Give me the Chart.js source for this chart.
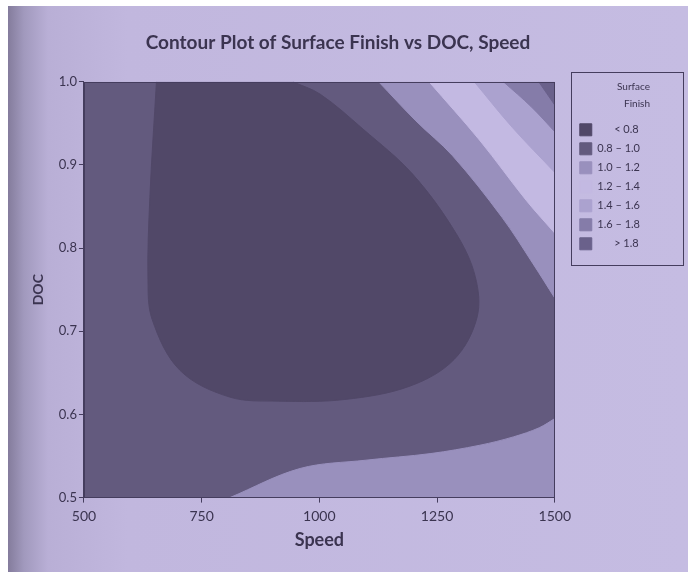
<!DOCTYPE html>
<html>
<head>
<meta charset="utf-8">
<title>Contour Plot of Surface Finish vs DOC, Speed</title>
<script src="https://cdn.jsdelivr.net/npm/chart.js@4.4.1/dist/chart.umd.min.js"></script>
<style>
  html, body { margin: 0; padding: 0; background: #fff; }
  #wrap {
    position: absolute; left: 8px; top: 6px; width: 680px; height: 566px;
    background: linear-gradient(90deg, #847c9c 0px, #a199bd 16px, #b9afd6 40px, #c1b7de 120px, #c5bce2 100%);
  }
  canvas { display: block; }
</style>
</head>
<body>
<div id="wrap"><canvas id="contour" width="680" height="566"></canvas></div>
<script>
// Contour levels of Surface Finish (legend order)
const levels = ['< 0.8', '0.8 – 1.0', '1.0 – 1.2', '1.2 – 1.4', '1.4 – 1.6', '1.6 – 1.8', '> 1.8'];
const levelColors = ['#514868', '#635a7e', '#9990bd', '#c3b9e2', '#aba2cf', '#857ca9', '#6a618b'];

const speedRange = [500, 1500];
const docRange = [0.5, 1.0];

// 0.8 contour, a loop that opens onto the top edge
const innerSpeed = [654, 640, 636, 645, 704, 809, 913, 1054, 1192, 1286, 1335, 1331, 1290, 1198, 1093, 1002, 944];
const innerDoc = [1.0, 0.861, 0.763, 0.714, 0.653, 0.621, 0.616, 0.618, 0.634, 0.666, 0.717, 0.766, 0.818, 0.889, 0.943, 0.985, 1.0];

// 1.0 contour, upper right and lower right
const upper10Speed = [1126, 1205, 1283, 1388, 1454, 1500];
const upper10Doc = [1.0, 0.953, 0.911, 0.837, 0.781, 0.740];
const lower10Speed = [810, 959, 1099, 1237, 1341, 1412, 1467, 1500];
const lower10Doc = [0.5, 0.535, 0.545, 0.553, 0.563, 0.573, 0.584, 0.595];

// 1.2 .. 1.8 contours in the top right corner
const c12Speed = [1233, 1340, 1440, 1500];
const c12Doc = [1.0, 0.930, 0.857, 0.818];
const c14Speed = [1329, 1410, 1500];
const c14Doc = [1.0, 0.945, 0.891];
const c16Speed = [1391, 1450, 1500];
const c16Doc = [1.0, 0.970, 0.940];
const c18Speed = [1466, 1500];
const c18Doc = [1.0, 0.972];

const textColor = '#3b3450';
const axisColor = '#453d5e';
const fontFamily = 'Lato, "Open Sans", sans-serif';

const pts = (xs, ys) => xs.map((x, i) => ({ x: x, y: ys[i] }));

// one filled region per level; order decides what is painted on top
function region(level, data, fill, order) {
    return {
        label: levels[level],
        data: data,
        fill: fill,
        order: order,
        backgroundColor: levelColors[level],
        borderColor: levelColors[level],
        borderWidth: 1,
        pointRadius: 0,
        tension: 0.35
    };
}

const datasets = [
    region(0, pts(innerSpeed, innerDoc), 'shape', 1),
    region(1, pts(speedRange, [docRange[0], docRange[0]]), 'end', 9),
    region(2, pts(upper10Speed, upper10Doc), 'end', 8),
    region(3, pts(c12Speed, c12Doc), 'end', 7),
    region(4, pts(c14Speed, c14Doc), 'end', 6),
    region(5, pts(c16Speed, c16Doc), 'end', 5),
    region(6, pts(c18Speed, c18Doc), 'end', 4),
    region(2, pts(lower10Speed, lower10Doc), 'start', 3)
];

// legend texts padded with spaces so the numbers line up on the right
function legendLabels(chart) {
    const items = Chart.defaults.plugins.legend.labels.generateLabels(chart)
        .filter(it => it.datasetIndex < levels.length);
    const ctx = chart.ctx;
    ctx.save();
    ctx.font = '11px ' + fontFamily;
    const widest = Math.max(...items.map(it => ctx.measureText(it.text).width));
    items.forEach(it => {
        while (ctx.measureText(' ' + it.text).width <= widest + 1) it.text = ' ' + it.text;
    });
    ctx.restore();
    return items;
}

// box round the plot and round the legend
const frames = {
    id: 'frames',
    afterDatasetsDraw(chart) {
        const a = chart.chartArea;
        const ctx = chart.ctx;
        ctx.save();
        ctx.strokeStyle = axisColor;
        ctx.lineWidth = 1;
        ctx.strokeRect(Math.round(a.left) + 0.5, Math.round(a.top) + 0.5,
            Math.round(a.right - a.left) - 1, Math.round(a.bottom - a.top) - 1);
        ctx.restore();
    },
    afterDraw(chart) {
        const lg = chart.legend;
        const boxes = lg.legendHitBoxes;
        if (!boxes.length) return;
        const last = boxes[boxes.length - 1];
        const ctx = chart.ctx;
        const left = Math.round(lg.left) - 2;
        const top = Math.round(lg.top) - 10;
        ctx.save();
        ctx.strokeStyle = axisColor;
        ctx.lineWidth = 1;
        ctx.strokeRect(left + 0.5, top + 0.5, chart.width - 5 - left, Math.round(last.top + last.height / 2 + 21) - top);
        ctx.restore();
    }
};

new Chart(document.getElementById('contour'), {
    type: 'line',
    data: { datasets: datasets },
    options: {
        responsive: false,
        animation: false,
        events: [],
        layout: { padding: { left: 18, right: 38, top: 0, bottom: 21 } },
        scales: {
            x: {
                type: 'linear',
                min: speedRange[0],
                max: speedRange[1],
                ticks: { stepSize: 250, color: textColor, padding: 5, font: { family: fontFamily, size: 14 },
                    callback: v => String(v) },
                grid: { drawOnChartArea: false, drawTicks: true, tickLength: 5, color: axisColor },
                border: { color: axisColor },
                title: { display: true, text: 'Speed', color: textColor, padding: { top: 0, bottom: 0 },
                    font: { family: fontFamily, size: 18, weight: 'bold' } }
            },
            y: {
                type: 'linear',
                min: docRange[0],
                max: docRange[1],
                ticks: { stepSize: 0.1, color: textColor, padding: 2, font: { family: fontFamily, size: 13 },
                    callback: v => v.toFixed(1) },
                grid: { drawOnChartArea: false, drawTicks: true, tickLength: 5, color: axisColor },
                border: { color: axisColor },
                title: { display: true, text: 'DOC', color: textColor, padding: { top: 4, bottom: 10 },
                    font: { family: fontFamily, size: 14, weight: 'bold' } }
            },
            gap: {
                type: 'linear',
                axis: 'y',
                position: 'right',
                display: true,
                ticks: { display: false },
                grid: { display: false },
                border: { display: false },
                afterFit: scale => { scale.width = 18; }
            }
        },
        plugins: {
            title: {
                display: true,
                text: 'Contour Plot of Surface Finish vs DOC, Speed',
                color: textColor,
                padding: { top: 25, bottom: 28 },
                font: { family: fontFamily, size: 19, weight: 'bold' }
            },
            legend: {
                position: 'right',
                align: 'start',
                fullSize: false,
                title: {
                    display: true,
                    text: ['Surface', 'Finish'],
                    position: 'end',
                    color: textColor,
                    padding: { top: 0, bottom: 18 },
                    font: { family: fontFamily, size: 10, lineHeight: 1.7 }
                },
                labels: {
                    boxWidth: 12,
                    boxHeight: 12,
                    padding: 7,
                    color: textColor,
                    font: { family: fontFamily, size: 11 },
                    generateLabels: legendLabels,
                    sort: (a, b) => a.datasetIndex - b.datasetIndex
                }
            },
            tooltip: { enabled: false }
        }
    },
    plugins: [frames]
});
</script>
</body>
</html>
